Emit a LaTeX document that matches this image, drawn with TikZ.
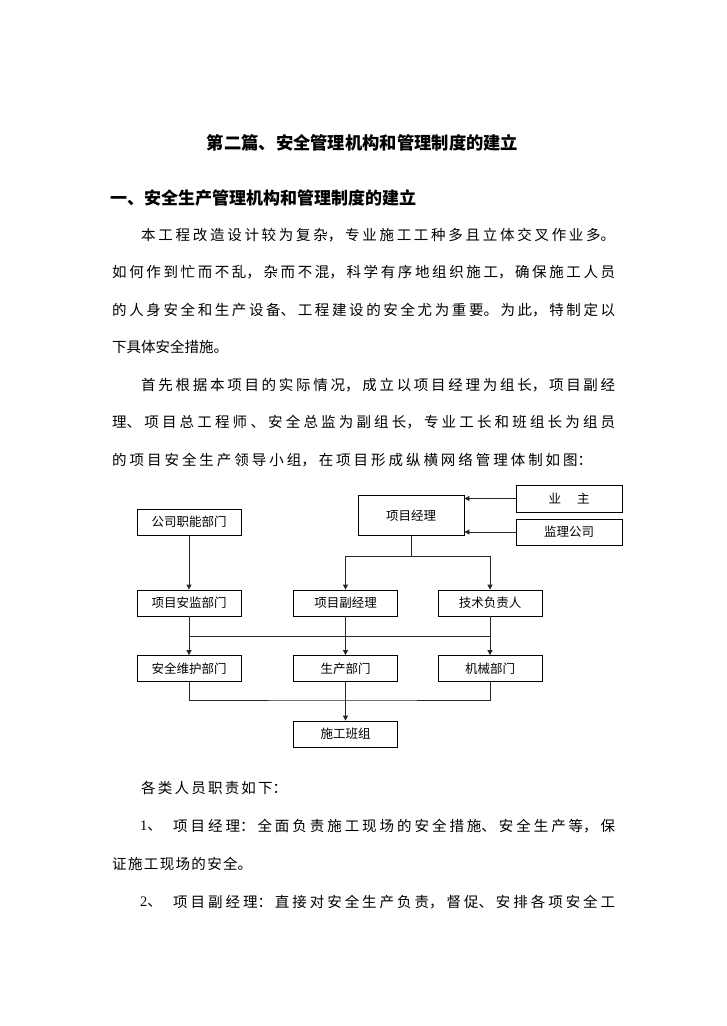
\documentclass[tikz,border=0pt]{standalone}
\usepackage{fontspec}
\setmainfont{Noto Sans CJK SC}
\newfontfamily\lat{Liberation Serif}
\usetikzlibrary{arrows.meta}
\tikzset{
 box/.style={draw, line width=0.8pt, minimum width=104pt, minimum height=26pt, inner sep=0pt, font=\fontsize{12.5}{14}\selectfont},
 conn/.style={line width=0.8pt, draw=black!85},
 arr/.style={conn, -{Triangle[width=5pt,length=5pt]}},
 txt/.style={anchor=west, inner sep=0pt, font=\fontsize{14.5}{17}\selectfont},
 ttl/.style={inner sep=0pt, font=\fontsize{17.3}{20}\selectfont\bfseries},
}
\newcommand{\jl}[2]{\parbox{#1pt}{\XeTeXlinebreaklocale "zh"\XeTeXlinebreakskip=0pt plus 40pt minus 1pt\relax\parfillskip=0pt\relax\noindent #2}}
\begin{document}
\begin{tikzpicture}[x=1pt,y=-1pt]
\useasboundingbox[fill=white] (0,0) rectangle (726,1026);
% headings
\node[ttl] (title) at (362.5,143) {第二篇、安全管理机构和管理制度的建立};
\node[ttl, anchor=west, font=\fontsize{17}{20}\selectfont\bfseries] (h1) at (110,198) {一、安全生产管理机构和管理制度的建立};
% body
\node[txt] (p1) at (141,235) {\jl{474}{本工程改造设计较为复杂，专业施工工种多且立体交叉作业多。}};
\node[txt] (p2) at (112,272) {\jl{503}{如何作到忙而不乱，杂而不混，科学有序地组织施工，确保施工人员}};
\node[txt] (p3) at (112,310) {\jl{503}{的人身安全和生产设备、工程建设的安全尤为重要。为此，特制定以}};
\node[txt] (p4) at (112,347) {\jl{116}{下具体安全措施。}};
\node[txt] (p5) at (141,385) {\jl{474}{首先根据本项目的实际情况，成立以项目经理为组长，项目副经}};
\node[txt] (p6) at (112,422) {\jl{503}{理、项目总工程师 、安全总监为副组长，专业工长和班组长为组员}};
\node[txt] (p7) at (112,460) {\jl{480}{的项目安全生产领导小组，在项目形成纵横网络管理体制如图：}};
\node[txt] (q0) at (141,788) {\jl{146}{各类人员职责如下：}};
\node[txt] (n1) at (140,826) {{\lat 1}、};
\node[txt] (q1) at (173,826) {\jl{442}{项目经理：全面负责施工现场的安全措施、安全生产等，保}};
\node[txt] (q2) at (112,864) {\jl{140}{证施工现场的安全。}};
\node[txt] (n2) at (140,902) {{\lat 2}、};
\node[txt] (q3) at (173,902) {\jl{442}{项目副经理：直接对安全生产负责，督促、安排各项安全工}};
% diagram boxes
\node[box] (gs) at (189,522) {公司职能部门};
\node[box, minimum width=106pt, minimum height=40pt] (xm) at (411,515.5) {项目经理};
\node[box, minimum width=106pt, minimum height=27pt] (yz) at (569,498.5) {业\hspace{16pt}主};
\node[box, minimum width=106pt] (jl) at (569,532) {监理公司};
\node[box] (aj) at (189,603) {项目安监部门};
\node[box] (fj) at (345.5,603) {项目副经理};
\node[box] (js) at (490,603) {技术负责人};
\node[box] (aw) at (189,668.5) {安全维护部门};
\node[box] (sc) at (345.5,668.5) {生产部门};
\node[box] (jx) at (490,668.5) {机械部门};
\node[box] (sg) at (345.5,734) {施工班组};
% connectors
\coordinate (bus1) at (411,556);
\coordinate (bus2) at (345.5,636);
\coordinate (bus3) at (345.5,700);
\draw[arr] (gs) -- (aj);
\draw[arr] (yz.west) -- (yz.west -| xm.east);
\draw[arr] (jl.west) -- (jl.west -| xm.east);
\draw[conn] (xm.south) -- (bus1);
\draw[arr] (bus1) -| (fj.north);
\draw[arr] (bus1) -| (js.north);
\draw[conn] (bus2 -| aw) -- (bus2 -| jx);
\draw[arr] (aj) -- (aw);
\draw[arr] (fj) -- (sc);
\draw[arr] (js) -- (jx);
\draw[conn] (aw.south) |- (bus3) -| (jx.south);
\draw[arr] (sc) -- (sg);
\end{tikzpicture}
\end{document}
